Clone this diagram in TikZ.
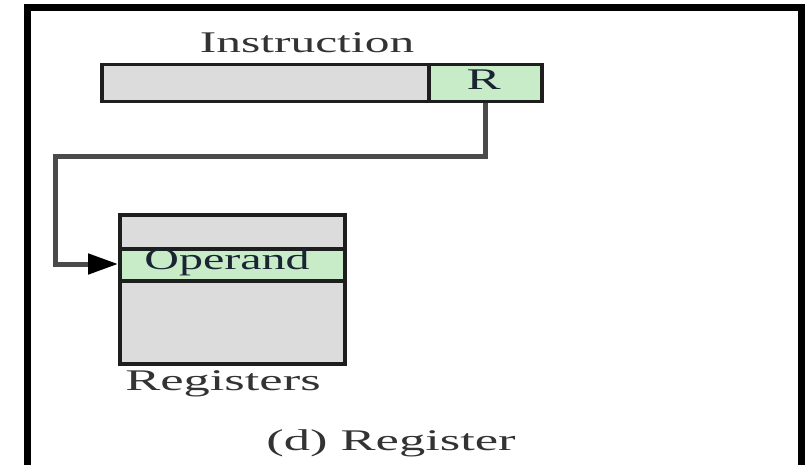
\documentclass[tikz,border=0pt]{standalone}
\usepackage{fontspec}
\setmainfont{Liberation Serif}
\usetikzlibrary{arrows.meta}

\definecolor{cellgray}{HTML}{DCDCDC}
\definecolor{cellgreen}{HTML}{C8EBC8}
\definecolor{edge}{HTML}{1E1E1E}
\definecolor{wire}{HTML}{4A4A4A}
\definecolor{labeltext}{HTML}{333333}
\definecolor{celltext}{HTML}{1A2433}

\newcommand{\wide}[2]{\scalebox{#1}[1]{#2}}

\tikzset{
  cellbox/.style={draw=edge, line width=3.5pt, inner sep=0pt, anchor=north west},
  graycell/.style={cellbox, fill=cellgray},
  greencell/.style={cellbox, fill=cellgreen},
  lbl/.style={inner sep=0pt, anchor=base, text=labeltext,
              font=\fontsize{30}{36}\selectfont},
  celllbl/.style={lbl, text=celltext},
  wireline/.style={draw=wire, line width=5pt, line join=miter},
  frameline/.style={draw=black, line width=7pt}
}

\begin{document}
\begin{tikzpicture}[x=1pt, y=-1pt]
  \useasboundingbox (0,0) rectangle (810,465);
  \fill[white] (0,0) rectangle (810,465);
  \clip (0,0) rectangle (810,465);

  % outer frame (open at the bottom edge)
  \draw[frameline] (27,520) -- (27,7.5) -- (801,7.5) -- (801,520);

  % instruction word: address field and register field
  \node[lbl] (instrlbl) at (307,53) {\wide{1.65}{Instruction}};
  \node[graycell, minimum width=327pt, minimum height=37pt] (opfield) at (100,63) {};
  \node[greencell, minimum width=113pt, minimum height=37pt] (rfield) at (427,63) {};
  \node[celllbl] (rlbl) at (483.5,90) {\wide{1.7}{R}};

  % register file with the selected operand register
  \node[graycell, minimum width=225pt, minimum height=149pt] (regs) at (118,213) {};
  \node[greencell, minimum width=225pt, minimum height=32pt] (operand) at (118,247) {};
  \node[celllbl] (oplbl) at (227,269) {\wide{1.6}{Operand}};
  \node[lbl] (regslbl) at (223,390) {\wide{1.75}{Registers}};

  % caption
  \node[lbl] (caption) at (391,450) {\wide{1.75}{(d) Register}};

  % register field selects the operand register
  \coordinate (bend1) at (rfield.south |- 0,157);
  \coordinate (bend2) at (55,157);
  \coordinate (bend3) at (55,264);
  \draw[wireline, -{Triangle[length=30pt, width=20pt, color=black, fill=black]}]
    (rfield.south) -- (bend1) -- (bend2) -- (bend3) -- (bend3 -| operand.west);
\end{tikzpicture}
\end{document}
